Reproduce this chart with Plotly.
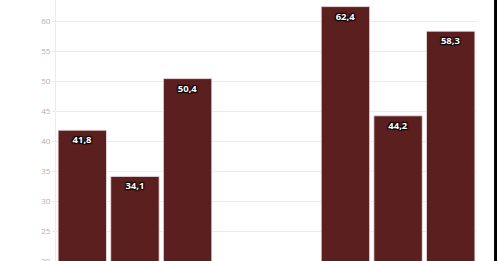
import plotly.graph_objects as go

positions = [0, 1, 2, 5, 6, 7]
values = [41.8, 34.1, 50.4, 62.4, 44.2, 58.3]
labels = ["41,8", "34,1", "50,4", "62,4", "44,2", "58,3"]
y_ticks = [20, 25, 30, 35, 40, 45, 50, 55, 60]

fig = go.Figure()
fig.add_trace(go.Bar(
    x=positions, y=values, text=labels,
    textposition="inside", insidetextanchor="end",
    textfont=dict(family="Open Sans", size=9.5, color="white", weight="bold",
                  shadow="1px 1px 1px #000, -1px -1px 1px #000, 1px -1px 1px #000, -1px 1px 1px #000"),
    marker=dict(color="#5b1f20", line=dict(color="#f0e4e4", width=0.8)),
    cliponaxis=False,
))

fig.update_layout(
    width=497, height=261,
    margin=dict(l=56, r=20, t=0, b=0),
    paper_bgcolor="white", plot_bgcolor="white",
    bargap=0.08,
    separators=", ",
    showlegend=False,
    xaxis=dict(range=[-0.5, 7.5], visible=False),
    yaxis=dict(range=[20, 63.5], tickvals=y_ticks, automargin=False,
               showgrid=True, gridcolor="#ececec", gridwidth=1,
               showline=True, linecolor="#ececec", linewidth=1,
               ticks="outside", ticklen=3, tickcolor="#ececec",
               ticklabeloverflow="allow",
               tickfont=dict(family="Open Sans", size=8, color="#b0b0b0"),
               zeroline=False),
    shapes=[dict(type="rect", xref="paper", yref="paper",
                 x0=1.0405, x1=1.06, y0=0, y1=1, fillcolor="black",
                 line=dict(width=0), layer="above")],
)

fig.write_html("out.html")
